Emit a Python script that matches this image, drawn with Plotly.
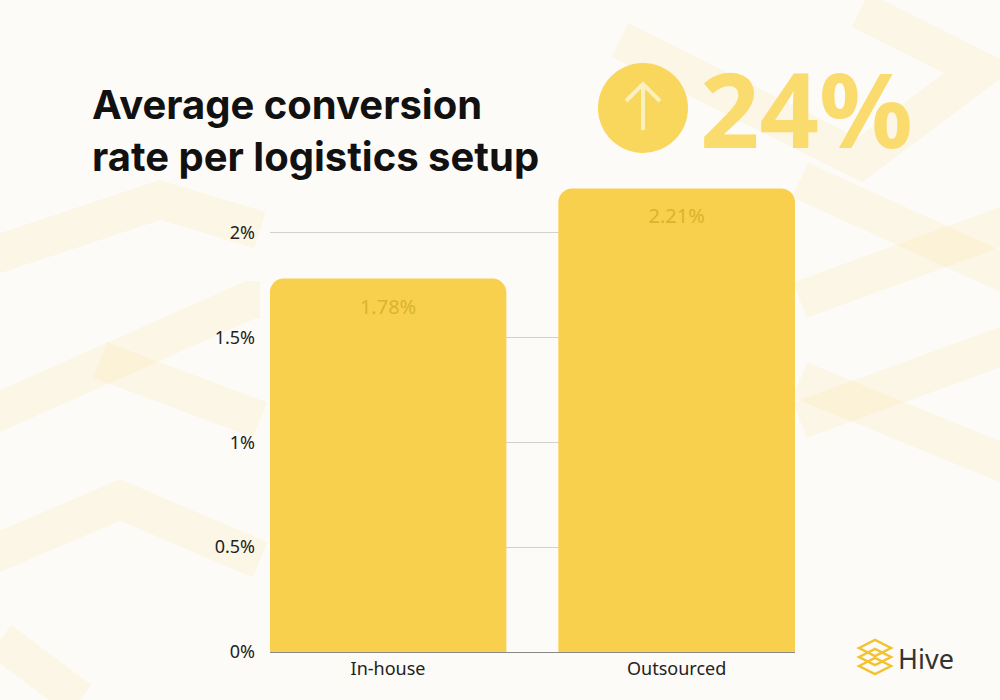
import plotly.graph_objects as go

categories = ["In-house", "Outsourced"]
values = [1.78, 2.21]
labels = ["1.78%", "2.21%"]
tickvals = [0, 0.5, 1, 1.5, 2]
ticktext = ["0%", "0.5%", "1%", "1.5%", "2%"]

W, H = 1000, 700
L, R, T, B = 270, 205, 180, 48
PW, PH = W - L - R, H - T - B
def px(x, y):
    return (x - L) / PW, (H - B - y) / PH

fig = go.Figure(go.Bar(
    x=categories, y=values, text=labels, textposition="inside",
    insidetextanchor="end", textfont=dict(color="#D8B52C", size=20, family="Noto Sans"),
    marker=dict(color="#F9CF4E", line=dict(width=0)),
))

shapes = []
deco = "rgba(249,215,110,0.12)"
def poly(pts, width=38):
    d = "M " + " L ".join(f"{px(x,y)[0]:.4f},{px(x,y)[1]:.4f}" for x, y in pts)
    shapes.append(dict(type="path", path=d, xref="paper", yref="paper",
                       line=dict(color=deco, width=width), layer="below"))
poly([(-20, 260), (160, 200), (260, 230)])
poly([(-20, 420), (250, 300), (260, 300)])
poly([(100, 360), (260, 420)])
poly([(-20, 560), (120, 500), (260, 560)])
poly([(0, 640), (80, 700)])
poly([(620, 40), (860, 160), (980, 70), (860, 10)])
poly([(800, 180), (1020, 280)])
poly([(800, 300), (1020, 220)])
poly([(800, 380), (1020, 470)])
poly([(800, 420), (1020, 340)])

shapes.append(dict(type="circle", xref="paper", yref="paper",
                   x0=px(598, 0)[0], x1=px(688, 0)[0], y0=px(0, 153)[1], y1=px(0, 63)[1],
                   fillcolor="#F9D65C", line=dict(width=0)))
ax = 643
shapes.append(dict(type="path", xref="paper", yref="paper",
                   path=f"M {px(ax,130)[0]},{px(ax,130)[1]} L {px(ax,84)[0]},{px(ax,84)[1]} "
                        f"M {px(626,101)[0]},{px(626,101)[1]} L {px(ax,84)[0]},{px(ax,84)[1]} L {px(660,101)[0]},{px(660,101)[1]}",
                   line=dict(color="#FCEFC0", width=4)))
for yy in [648, 657, 666]:
    shapes.append(dict(type="path", xref="paper", yref="paper",
        path=f"M {px(859,yy)[0]},{px(859,yy)[1]} L {px(875,yy-8)[0]},{px(875,yy-8)[1]} "
             f"L {px(891,yy)[0]},{px(891,yy)[1]} L {px(875,yy+8)[0]},{px(875,yy+8)[1]} Z",
        line=dict(color="#F2C230", width=2.5), fillcolor="rgba(0,0,0,0)"))

annotations = [
    dict(text="<b>Average conversion<br>rate per logistics setup</b>", xref="paper", yref="paper",
         x=px(90, 0)[0], y=px(0, 78)[1], xanchor="left", yanchor="top", align="left",
         showarrow=False, font=dict(size=40, color="#111111", family="Inter")),
    dict(text="<b>24%</b>", xref="paper", yref="paper", x=px(698, 0)[0], y=px(0, 108)[1],
         xanchor="left", yanchor="middle", showarrow=False,
         font=dict(size=104, color="#FADB6E", family="Noto Sans")),
    dict(text="Hive", xref="paper", yref="paper", x=px(896, 0)[0], y=px(0, 658)[1],
         xanchor="left", yanchor="middle", showarrow=False,
         font=dict(size=27, color="#333333", family="Noto Sans")),
]

fig.update_layout(
    width=W, height=H, paper_bgcolor="#FDFBF7", plot_bgcolor="rgba(0,0,0,0)",
    margin=dict(l=L, r=R, t=T, b=B), bargap=0.18, barcornerradius=14,
    showlegend=False, shapes=shapes, annotations=annotations,
    font=dict(family="Noto Sans", color="#222222"),
    xaxis=dict(showgrid=False, tickfont=dict(size=18), showline=True,
               linecolor="#888888", ticks="", range=[-0.409, 1.41]),
    yaxis=dict(range=[0, 2.25], tickvals=tickvals, ticktext=ticktext, gridcolor="#D0D0D0",
               tickfont=dict(size=18), zeroline=False, ticklabelstandoff=14),
)
fig.write_html("out.html", config={"displayModeBar": False},
               post_script="document.body.style.margin='0';")
